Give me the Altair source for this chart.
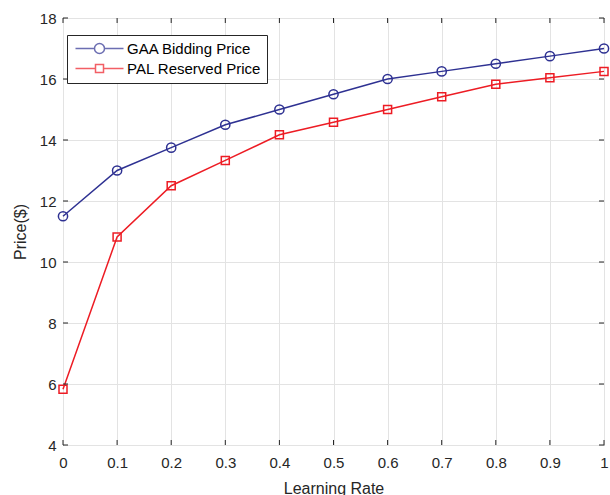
import altair as alt
import pandas as pd

# ---- data ----
learning_rate = [0.0, 0.1, 0.2, 0.3, 0.4, 0.5, 0.6, 0.7, 0.8, 0.9, 1.0]
gaa_bidding = [11.5, 13.0, 13.75, 14.5, 15.0, 15.5, 16.0, 16.25, 16.5, 16.75, 17.0]
pal_reserved = [5.83, 10.82, 12.5, 13.33, 14.17, 14.58, 15.0, 15.42, 15.83, 16.04, 16.25]
series_names = ["GAA Bidding Price", "PAL Reserved Price"]
series_colors = ["#2E3192", "#ED1C24"]
x_ticks = [0.0, 0.1, 0.2, 0.3, 0.4, 0.5, 0.6, 0.7, 0.8, 0.9, 1.0]
y_ticks = [4, 6, 8, 10, 12, 14, 16, 18]

W, H = 541, 427
AX = "#262626"
FONT = "Liberation Sans"

df = pd.DataFrame(
    {
        "x": learning_rate * 2,
        "y": gaa_bidding + pal_reserved,
        "series": [series_names[0]] * len(learning_rate) + [series_names[1]] * len(learning_rate),
    }
)
xt = pd.DataFrame({"x": x_ticks})
yt = pd.DataFrame({"y": y_ticks})

xs = alt.Scale(domain=[0, 1], nice=False, zero=False)
ys = alt.Scale(domain=[4, 18], nice=False, zero=False)

X = alt.X(
    "x:Q",
    scale=xs,
    title="Learning Rate",
    axis=alt.Axis(values=x_ticks, format="~g", labelPadding=10, titlePadding=10,
                  labelFlush=False, labelOverlap=False),
)
Y = alt.Y(
    "y:Q",
    scale=ys,
    title="Price($)",
    axis=alt.Axis(values=y_ticks, labelPadding=7, titlePadding=11,
                  labelFlush=False, labelOverlap=False),
)

base = alt.Chart(df)

layers = []
shapes = ["circle", "square"]
psize = [85, 64]
for i, name in enumerate(series_names):
    sub = base.transform_filter(alt.datum.series == name)
    layers.append(
        sub.mark_line(strokeWidth=1.5, color=series_colors[i]).encode(x=X, y=Y)
    )
    layers.append(
        sub.mark_point(
            filled=False, strokeWidth=1.5, color=series_colors[i], shape=shapes[i], size=psize[i], opacity=1
        ).encode(x="x:Q", y="y:Q")
    )

# inward ticks (MATLAB style) on all four sides
tick_len = 5
layers.append(
    alt.Chart(xt).mark_rule(color=AX, strokeWidth=1).encode(
        x="x:Q", y=alt.value(H), y2=alt.value(H - tick_len)
    )
)
layers.append(
    alt.Chart(xt).mark_rule(color=AX, strokeWidth=1).encode(
        x="x:Q", y=alt.value(0), y2=alt.value(tick_len)
    )
)
layers.append(
    alt.Chart(yt).mark_rule(color=AX, strokeWidth=1).encode(
        y="y:Q", x=alt.value(0), x2=alt.value(tick_len)
    )
)
layers.append(
    alt.Chart(yt).mark_rule(color=AX, strokeWidth=1).encode(
        y="y:Q", x=alt.value(W), x2=alt.value(W - tick_len)
    )
)

# legend layer (no marks drawn, only the legend)
# symbol size 100 -> path unit = 5px; line spans 48px, marker in the middle
circle_path = "M-1,0L2.8,0M4.8,0L8.6,0M4.8,0A1,1,0,1,1,2.8,0A1,1,0,1,1,4.8,0"
square_path = "M-1,0L3,0M4.6,0L8.6,0M3,-0.8L4.6,-0.8L4.6,0.8L3,0.8Z"
leg = alt.Legend(
    title=None,
    orient="none",
    legendX=4,
    legendY=17,
    fillColor="white",
    strokeColor=AX,
    padding=6,
    symbolSize=100,
    symbolStrokeWidth=1.5,
    labelFont=FONT,
    labelFontSize=15,
    labelColor="black",
    labelOffset=39,
    labelExpr="datum.label + '\u00a0\u00a0\u00a0'",
    rowPadding=4,
    cornerRadius=0,
)
layers.append(
    base.transform_filter("false")
    .mark_point(filled=False, strokeWidth=1.5)
    .encode(
        x="x:Q",
        y="y:Q",
        color=alt.Color("series:N", scale=alt.Scale(domain=series_names, range=series_colors), legend=leg),
        shape=alt.Shape("series:N", scale=alt.Scale(domain=series_names, range=[circle_path, square_path]), legend=leg),
    )
)

chart = (
    alt.layer(*layers)
    .properties(
        width=W,
        height=H,
        autosize=alt.AutoSizeParams(type="none"),
        padding={"left": 63, "top": 18, "right": 6, "bottom": 50},
        background="white",
    )
    .configure_view(stroke=AX, strokeWidth=1)
    .configure_axis(
        domain=False,
        ticks=False,
        grid=True,
        gridColor="#E3E3E3",
        gridWidth=1,
        labelFont=FONT,
        labelFontSize=15,
        labelColor=AX,
        titleFont=FONT,
        titleFontSize=16,
        titleFontWeight="normal",
        titleColor=AX,
    )
)

chart.save("out.html", embed_options={"renderer": "svg", "actions": False})
